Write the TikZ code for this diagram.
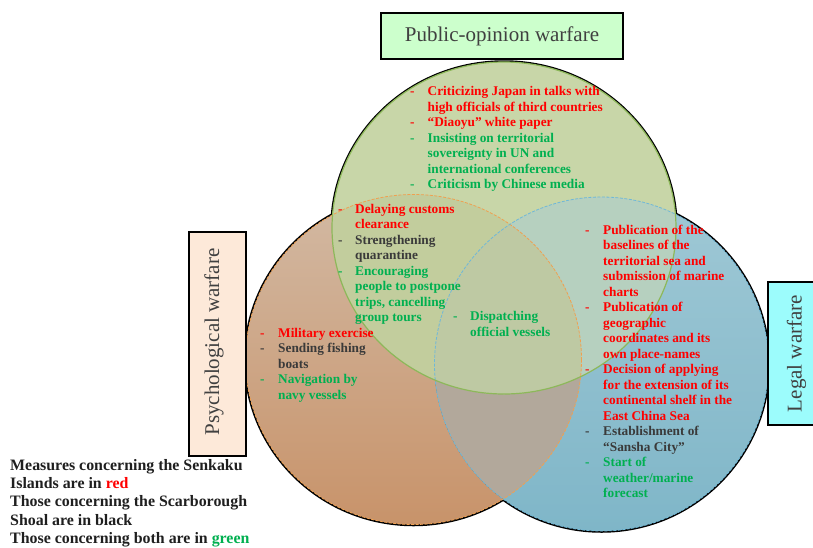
\documentclass[tikz,border=0pt]{standalone}
\usepackage{fontspec}
\setmainfont{Liberation Serif}
\usepackage{xcolor}
\usetikzlibrary{positioning}

\definecolor{senred}{HTML}{FF0000}
\definecolor{bothgreen}{HTML}{00B050}
\definecolor{scagray}{HTML}{3A3A3A}
\definecolor{ttlgray}{HTML}{404040}
\definecolor{pubbox}{HTML}{CCFFCC}
\definecolor{psybox}{HTML}{FDE9D9}
\definecolor{legbox}{HTML}{9CFCFC}
\definecolor{psytop}{HTML}{D2B9A3}
\definecolor{psybot}{HTML}{C8936A}
\definecolor{legtop}{HTML}{9FC8D5}
\definecolor{legbot}{HTML}{7FB6C8}
\definecolor{pubfill}{HTML}{C8D6A8}
\definecolor{pubpsy}{HTML}{C2CD9D}
\definecolor{publeg}{HTML}{B6D0BF}
\definecolor{psyleg}{HTML}{B2A89B}
\definecolor{allthree}{HTML}{BEC9A3}
\definecolor{psyline}{HTML}{F0A050}
\definecolor{legline}{HTML}{6FB8D8}
\definecolor{publine}{HTML}{8DB85A}

\newcommand{\itm}[2]{\textcolor{#1}{-} & \textcolor{#1}{#2}\\}
\newcommand{\cnt}[2]{ & \textcolor{#1}{#2}\\}

\begin{document}
\begin{tikzpicture}[x=1pt, y=-1pt,
    blk/.style={anchor=base west, inner sep=0pt, font=\fontsize{13.3}{15.5}\selectfont\bfseries},
    ttl/.style={draw=black, line width=1.5pt, inner sep=0pt, text=ttlgray, font=\fontsize{21}{24}\selectfont},
    rim/.style={draw=black, line width=3.5pt}]

      \clip (0,0) rectangle (813,547);
      \fill[white] (0,0) rectangle (813,547);

      \coordinate (pub) at (504,228);
      \coordinate (psy) at (413.5,359.5);
      \coordinate (leg) at (601.5,364);

      % outer rims
      \draw[rim] (psy) ellipse [x radius=168, y radius=165];
      \draw[rim] (leg) circle [radius=167];
      \draw[rim] (pub) ellipse [x radius=172, y radius=166];

      \fill[top color=psytop, bottom color=psybot] (psy) ellipse [x radius=168, y radius=165];
      \fill[top color=legtop, bottom color=legbot] (leg) circle [radius=167];
      \begin{scope}
        \clip (psy) ellipse [x radius=168, y radius=165];
        \fill[psyleg] (leg) circle [radius=167];
      \end{scope}
      \fill[pubfill] (pub) ellipse [x radius=172, y radius=166];
      \begin{scope}
        \clip (pub) ellipse [x radius=172, y radius=166];
        \fill[pubpsy] (psy) ellipse [x radius=168, y radius=165];
        \fill[publeg] (leg) circle [radius=167];
        \clip (psy) ellipse [x radius=168, y radius=165];
        \fill[allthree] (leg) circle [radius=167];
      \end{scope}

      \draw[psyline, line width=0.8pt, dash pattern=on 3pt off 1.5pt] (psy) ellipse [x radius=168, y radius=165];
      \draw[legline, line width=0.8pt, dash pattern=on 3pt off 1.5pt] (leg) circle [radius=167];
      \draw[publine, line width=1.2pt] (pub) ellipse [x radius=172, y radius=166];

      % titles
      \node[ttl, fill=pubbox, minimum width=242, minimum height=46] (pubttl) at (502,36) {Public-opinion warfare};
      \node[ttl, fill=psybox, rotate=90, minimum width=224, minimum height=57] (psyttl) at (217.5,344) {};
      \node[inner sep=0pt, rotate=90, text=ttlgray, font=\fontsize{21}{24}\selectfont] (psyname) at (214,342) {Psychological warfare};
      \node[ttl, fill=legbox, rotate=90, minimum width=143, minimum height=57] (legttl) at (796.5,353.5) {Legal warfare};

      \node[blk] (pubtxt) at (410,95.7) {\begin{tabular}[t]{@{}p{17.5pt}@{}l@{}}
        \itm{senred}{Criticizing Japan in talks with}
        \cnt{senred}{high officials of third countries}
        \itm{senred}{“Diaoyu” white paper}
        \itm{bothgreen}{Insisting on territorial}
        \cnt{bothgreen}{sovereignty in UN and}
        \cnt{bothgreen}{international conferences}
        \itm{bothgreen}{Criticism by Chinese media}
      \end{tabular}};

      \node[blk] (pubpsytxt) at (338,213.3) {\begin{tabular}[t]{@{}p{17pt}@{}l@{}}
        \itm{senred}{Delaying customs}
        \cnt{senred}{clearance}
        \itm{scagray}{Strengthening}
        \cnt{scagray}{quarantine}
        \itm{bothgreen}{Encouraging}
        \cnt{bothgreen}{people to postpone}
        \cnt{bothgreen}{trips, cancelling}
        \cnt{bothgreen}{group tours}
      \end{tabular}};

      \node[blk] (psytxt) at (260,337.3) {\begin{tabular}[t]{@{}p{18pt}@{}l@{}}
        \itm{senred}{Military exercise}
        \itm{scagray}{Sending fishing}
        \cnt{scagray}{boats}
        \itm{bothgreen}{Navigation by}
        \cnt{bothgreen}{navy vessels}
      \end{tabular}};

      \node[blk] (midtxt) at (453,320.7) {\begin{tabular}[t]{@{}p{17pt}@{}l@{}}
        \itm{bothgreen}{Dispatching}
        \cnt{bothgreen}{official vessels}
      \end{tabular}};

      \node[blk] (legtxt) at (585,234.3) {\begin{tabular}[t]{@{}p{18pt}@{}l@{}}
        \itm{senred}{Publication of the}
        \cnt{senred}{baselines of the}
        \cnt{senred}{territorial sea and}
        \cnt{senred}{submission of marine}
        \cnt{senred}{charts}
        \itm{senred}{Publication of}
        \cnt{senred}{geographic}
        \cnt{senred}{coordinates and its}
        \cnt{senred}{own place-names}
        \itm{senred}{Decision of applying}
        \cnt{senred}{for the extension of its}
        \cnt{senred}{continental shelf in the}
        \cnt{senred}{East China Sea}
        \itm{scagray}{Establishment of}
        \cnt{scagray}{“Sansha City”}
        \itm{bothgreen}{Start of}
        \cnt{bothgreen}{weather/marine}
        \cnt{bothgreen}{forecast}
      \end{tabular}};

      % legend
      \node[anchor=base west, inner sep=0pt, text=black!88, font=\fontsize{15.9}{18.1}\selectfont\bfseries] (key) at (10,470.7)
        {\begin{tabular}[t]{@{}l@{}}
        Measures concerning the Senkaku\\
        Islands are in \textcolor{senred}{red}\\
        Those concerning the Scarborough\\
        Shoal are in black\\
        Those concerning both are in \textcolor{bothgreen}{green}
        \end{tabular}};

\end{tikzpicture}
\end{document}
